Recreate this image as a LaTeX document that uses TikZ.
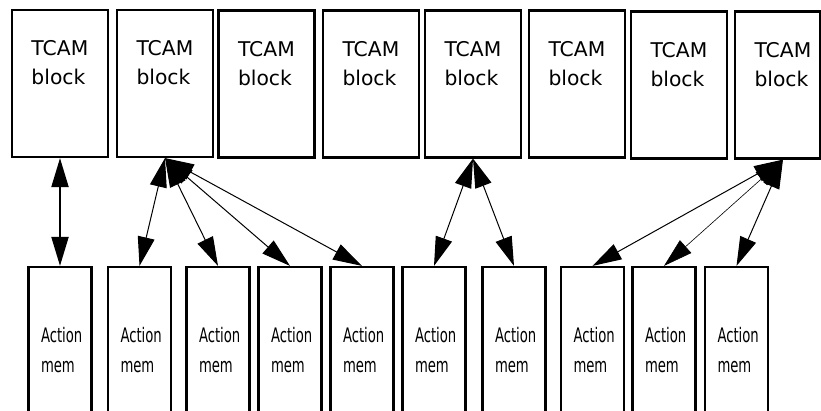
\documentclass[tikz,border=0pt]{standalone}
\usepackage{fontspec}
\usepackage{graphicx}
\setmainfont{DejaVu Sans}
\usetikzlibrary{arrows.meta}
\newcommand{\tcamlabel}[1]{\parbox[c][147pt][t]{#1}{\fontsize{20.3}{29}\selectfont\leftskip=19.5pt\rightskip=0pt plus 1fil\rule{0pt}{46pt}TCAM\\block}}
\newcommand{\actlabel}{\parbox[c][160pt][t]{63pt}{\fontsize{20}{30}\selectfont\leftskip=12.5pt\rightskip=0pt plus 1fil\rule{0pt}{75pt}\scalebox{0.66}[1]{Action}\\\scalebox{0.66}[1]{mem}}}
\begin{document}
\begin{tikzpicture}[x=1pt,y=-1pt,
  >={Triangle[length=29pt,width=17pt]},
  boxnode/.style={draw, line width=2.2pt, inner sep=0pt, fill=white},
  arr/.style={<->, line width=1pt},
  thickarr/.style={<->, line width=2pt},
  thinarr/.style={<->, line width=0.6pt}]
\useasboundingbox (0,0) rectangle (821,411);
\clip (0,0) rectangle (821,411);
\fill[white] (0,0) rectangle (821,411);
% TCAM blocks
\node[boxnode] (t1) at (60,83.5) {\tcamlabel{96pt}};
\node[boxnode] (t2) at (165,83.5) {\tcamlabel{96pt}};
\node[boxnode] (t3) at (266.5,84) {\tcamlabel{96pt}};
\node[boxnode] (t4) at (371,84) {\tcamlabel{96pt}};
\node[boxnode] (t5) at (473,84) {\tcamlabel{96pt}};
\node[boxnode] (t6) at (577,84) {\tcamlabel{96pt}};
\node[boxnode] (t7) at (679,85) {\tcamlabel{96pt}};
\node[boxnode] (t8) at (777.5,85) {\tcamlabel{85pt}};
% Action memories
\node[boxnode] (a1) at (60,347) {\actlabel};
\node[boxnode] (a2) at (139.5,347) {\actlabel};
\node[boxnode] (a3) at (218,347) {\actlabel};
\node[boxnode] (a4) at (290,347) {\actlabel};
\node[boxnode] (a5) at (362,347) {\actlabel};
\node[boxnode] (a6) at (434,347) {\actlabel};
\node[boxnode] (a7) at (514,347) {\actlabel};
\node[boxnode] (a8) at (592.5,347) {\actlabel};
\node[boxnode] (a9) at (664,347) {\actlabel};
\node[boxnode] (a10) at (736.5,347) {\actlabel};
% connectors
\coordinate (t8s) at ([xshift=5.5pt]t8.south);
\draw[thickarr] (t1.south) -- (a1.north);
\draw[arr] (t2.south) -- (a2.north);
\draw[arr] (t2.south) -- (a3.north);
\draw[arr] (t2.south) -- (a4.north);
\draw[arr] (t2.south) -- (a5.north);
\draw[arr] (t5.south) -- (a6.north);
\draw[arr] (t5.south) -- (a7.north);
\draw[arr] (t8s) -- (a8.north);
\draw[thinarr] (t8s) -- (a9.north);
\draw[arr] (t8s) -- (a10.north);
\end{tikzpicture}
\end{document}
